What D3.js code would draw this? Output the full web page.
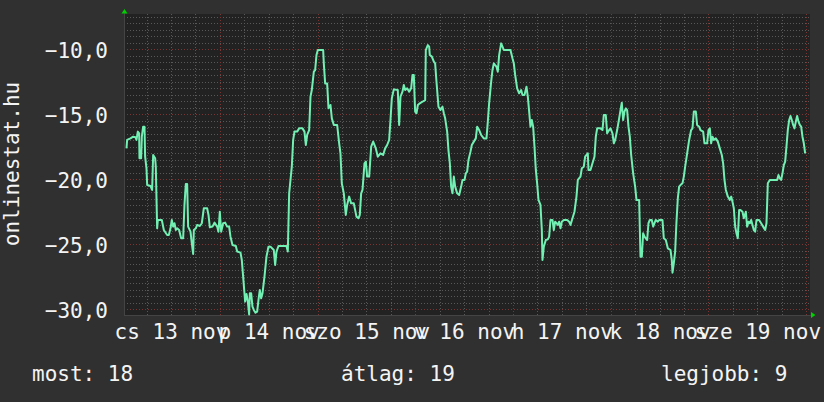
<!DOCTYPE html>
<html>
<head>
<meta charset="utf-8">
<script src="https://cdn.jsdelivr.net/npm/d3@7"></script>
<style>
  body { margin:0; background:#303030; }
  text { font-family:"DejaVu Sans Mono", monospace; font-size:21px; fill:#f4f4f4; }
</style>
</head>
<body>
<div id="chart"></div>
<script>
// hours since 2014-11-13 00:00, rank value
const day1 = [[1.08,-17.62],[1.24,-16.97],[2.06,-16.85],[2.72,-16.72],[3.29,-16.77],[3.54,-16.97],[3.86,-16.33],[4.19,-16.46],[4.27,-18.38],[4.68,-18.38],[4.85,-16.72],[5.17,-15.95],[5.5,-15.95],[5.66,-18.26],[5.99,-19.15],[6.16,-20.44],[6.97,-20.51],[7.38,-20.82],[7.63,-18.13],[8.12,-18.38],[8.28,-19.03],[8.61,-23.77],[8.78,-23.13],[9.76,-23.13],[10.25,-23.9],[11.07,-24.28],[11.48,-24.28],[11.89,-23.77],[12.21,-23.13],[12.54,-23.64],[12.87,-23.38],[13.2,-23.9],[13.52,-23.77],[14.01,-23.9],[14.5,-24.54],[15.0,-24.54],[15.32,-21.97],[15.65,-20.36],[15.98,-20.36],[16.22,-23.64],[16.8,-24.03],[17.12,-24.92],[17.45,-25.74],[17.62,-23.9],[18.11,-23.77],[18.43,-23.51],[19.09,-23.59],[19.58,-23.38],[20.07,-22.23],[20.89,-22.23],[21.22,-22.74],[21.55,-23.69],[22.2,-23.64],[22.69,-23.33],[23.35,-23.64],[23.67,-24.03],[24.0,-22.49],[24.33,-24.03],[24.82,-23.38],[25.31,-23.33],[25.8,-23.64],[26.29,-23.64],[26.62,-24.41],[27.11,-25.05],[27.93,-25.13],[28.26,-25.56],[29.08,-25.64],[29.4,-26.21],[29.73,-27.49],[30.22,-29.41],[30.55,-28.82],[30.88,-29.41],[31.2,-30.4],[31.37,-28.77],[31.7,-28.77],[32.02,-29.79],[32.35,-30.05],[32.76,-30.26],[33.17,-30.18],[33.5,-29.28],[33.82,-28.51],[34.15,-29.15],[34.48,-28.77],[34.97,-27.49],[35.46,-25.95],[35.95,-25.18],[36.44,-25.18],[37.26,-25.44],[37.59,-26.59],[37.92,-25.56],[38.41,-25.13],[40.37,-25.13],[40.7,-25.56],[41.03,-21.08]]
const day2 = [[41.68,-19.03],[42.01,-16.97],[42.34,-16.33],[42.99,-16.33],[43.48,-16.08],[44.3,-16.08],[44.79,-16.33],[45.12,-17.36],[45.45,-16.59],[45.94,-16.21],[46.27,-13.64],[46.59,-13.13],[47.09,-11.72],[47.41,-11.59],[47.74,-10.44],[48.07,-10.05],[49.38,-10.05],[49.54,-11.08],[49.87,-12.62],[50.36,-12.62],[50.69,-14.54],[51.18,-14.28],[51.51,-15.31],[52.0,-15.82],[52.82,-15.82],[53.31,-17.23],[53.63,-18.0],[53.96,-20.31],[54.45,-21.08],[54.94,-22.74],[55.27,-21.97],[55.76,-21.33],[56.25,-21.85],[56.91,-21.85],[57.56,-22.87],[58.06,-23.0],[58.38,-22.74],[58.71,-21.08],[59.04,-20.82],[59.53,-18.77],[59.86,-18.64],[60.18,-19.79],[60.68,-19.79],[61.17,-17.49],[61.66,-17.1],[62.31,-17.62],[62.8,-18.26],[63.46,-18.0],[64.11,-18.13],[64.6,-17.62],[65.1,-17.36],[65.59,-16.97],[65.91,-15.44],[66.24,-13.77],[66.73,-13.08],[67.71,-13.13],[68.04,-15.82],[68.37,-13.64],[68.86,-13.26],[69.19,-12.74],[69.52,-13.13],[70.01,-13.0],[70.5,-13.26],[70.99,-13.0],[71.32,-11.97],[71.64,-11.97],[71.97,-14.79],[72.3,-14.92],[72.63,-14.28],[73.12,-14.15],[73.77,-14.03],[74.43,-13.9],[74.59,-10.05],[75.08,-9.67],[75.41,-9.79],[75.57,-10.44],[76.07,-10.56],[76.56,-10.95],[76.88,-11.08],[77.21,-12.49],[77.7,-14.41],[78.19,-14.67],[78.68,-14.41],[79.01,-14.92],[79.34,-15.31],[79.83,-16.33],[80.16,-17.79],[80.49,-18.77],[80.81,-20.56],[81.14,-21.08],[81.47,-19.79],[81.8,-20.56],[82.29,-21.08],[82.78,-21.21],[83.27,-20.56],[83.6,-20.05]]
const day3 = [[84.09,-20.05],[84.41,-19.54],[84.74,-19.41],[85.07,-18.51],[85.56,-17.87],[85.89,-17.36],[86.38,-17.1],[86.87,-16.85],[87.2,-15.95],[87.69,-16.21],[88.18,-16.59],[88.83,-16.85],[89.49,-16.85],[89.82,-15.56],[90.14,-14.15],[90.64,-12.49],[90.96,-11.59],[91.29,-11.08],[91.62,-11.21],[91.94,-11.33],[92.27,-11.72],[92.6,-10.44],[93.09,-9.54],[93.42,-9.79],[93.75,-10.05],[95.38,-10.05],[95.87,-10.69],[96.2,-11.08],[96.53,-11.97],[97.02,-13.0],[97.51,-13.38],[98.0,-13.13],[98.33,-13.51],[98.82,-13.51],[99.31,-12.87],[99.64,-13.64],[99.97,-14.79],[100.29,-15.95],[100.62,-15.44],[100.95,-15.95],[101.28,-17.49],[101.61,-19.28],[101.93,-20.31],[102.26,-21.59],[102.75,-21.97],[103.08,-23.9],[103.24,-26.21],[103.57,-25.18],[104.06,-24.67],[104.55,-24.62],[104.88,-24.41],[105.21,-23.13],[105.7,-23.13],[106.02,-23.9],[106.35,-23.26],[106.68,-23.38],[107.01,-23.51],[107.33,-23.26],[107.66,-23.77],[107.99,-23.26],[108.48,-23.13],[109.3,-23.13],[109.79,-23.26],[110.12,-23.51],[110.61,-23.0],[111.1,-22.49],[111.59,-21.33],[111.92,-20.05],[112.57,-19.79],[112.9,-19.15],[113.39,-19.03],[113.72,-18.26],[114.37,-18.0],[114.54,-19.28],[115.03,-19.28],[115.52,-18.77],[116.01,-18.26],[116.34,-16.72],[116.67,-16.08],[117.49,-16.08],[117.98,-16.21],[118.3,-15.05],[118.79,-15.05],[119.12,-16.46],[119.61,-16.21],[119.94,-16.08],[120.43,-16.46],[120.76,-17.23],[121.09,-16.97],[121.58,-16.21],[122.07,-15.31],[122.4,-14.67],[122.72,-14.1],[123.05,-15.44],[123.38,-14.79],[123.71,-14.54],[124.03,-14.67],[124.36,-15.95],[124.69,-16.72],[125.02,-18.13]]
const day4 = [[125.51,-19.54],[126.0,-20.56],[126.33,-21.59],[126.98,-21.59],[127.31,-25.95],[127.64,-25.95],[127.96,-24.15],[128.29,-24.41],[128.62,-24.54],[128.95,-24.67],[129.27,-23.38],[129.6,-23.13],[130.09,-23.13],[130.42,-23.64],[130.75,-23.38],[131.07,-23.13],[131.57,-23.26],[131.89,-23.13],[132.71,-23.13],[133.04,-24.54],[133.53,-24.67],[134.02,-25.31],[134.68,-25.44],[135.0,-26.21],[135.17,-27.18],[135.49,-26.46],[135.82,-25.56],[136.15,-23.26],[136.48,-21.46],[136.8,-20.56],[137.13,-20.44],[137.62,-20.31],[137.95,-19.79],[138.28,-19.03],[138.77,-18.0],[139.26,-16.97],[139.75,-16.21],[140.08,-16.08],[140.41,-14.79],[140.9,-14.79],[141.22,-15.82],[141.72,-15.95],[142.04,-16.21],[142.7,-16.33],[143.03,-17.23],[143.68,-17.23],[144.01,-16.21],[144.34,-16.08],[144.66,-17.23],[144.99,-16.72],[145.32,-16.97],[145.81,-16.85],[146.3,-17.1],[146.79,-17.62],[147.28,-18.13],[147.61,-18.77],[147.94,-20.05],[148.27,-20.82],[148.76,-21.33],[149.25,-21.59],[149.58,-21.33],[149.9,-21.72],[150.23,-22.23],[150.56,-23.64],[150.88,-24.15],[151.21,-24.54],[151.54,-22.36],[151.87,-22.36],[152.36,-22.49],[152.69,-23.0],[153.18,-22.49],[153.5,-23.64],[153.83,-23.26],[154.16,-23.38],[154.49,-23.13],[155.14,-23.9],[155.47,-24.03],[155.8,-23.13],[156.45,-23.13],[156.94,-23.38],[157.43,-23.64],[157.93,-23.9],[158.25,-23.38],[158.58,-20.31],[159.07,-20.05],[160.87,-20.05],[161.2,-19.67],[161.53,-19.92],[161.85,-20.05],[162.18,-19.54],[162.51,-18.9],[162.84,-18.64],[163.16,-17.49],[163.49,-16.21],[163.82,-15.44],[164.15,-15.13],[164.47,-15.44],[164.8,-15.82],[165.13,-16.08],[165.46,-15.56],[165.78,-15.13],[166.11,-15.56],[166.44,-15.82],[166.77,-15.95],[167.09,-16.72],[167.42,-17.23],[167.75,-18.0]]

const yTicks = [-30,-25,-20,-15,-10]
const dayNames = ["v","h","k","sze","cs","p","szo"]   // hu_HU abday
const labelDays = [13,14,15,16,17,18,19]
const legend = [["most", 18],["átlag", 19],["legjobb", 9]]
const startDay = Date.UTC(2014,10,13)
const hourRange = [0.47, 168.94]

function render(){
  let width = 824, height = 402,
      margin = { top:14, left:124, right:14, bottom:87 },
      innerWidth = width - margin.left - margin.right,
      innerHeight = height - margin.top - margin.bottom

  let toDate = h => new Date(startDay + h*3600e3)
  let data = day1.concat(day2, day3, day4).map(d => ({ t: toDate(d[0]), v: d[1] }))

  let xScale = d3.scaleUtc().domain(hourRange.map(toDate)).range([0, innerWidth])
  let yScale = d3.scaleLinear().domain([-30.44, -7.28]).range([innerHeight, 0])

  let svg = d3.select("#chart").append("svg").attr("width", width).attr("height", height)
  svg.append("rect").attr("width", width).attr("height", height).attr("fill", "#303030")

  let g = svg.append("g").attr("transform", `translate(${margin.left},${margin.top})`)
  g.append("rect").attr("width", innerWidth).attr("height", innerHeight).attr("fill", "#222222")

  // grid: minor every 0,5 and 6 hours, major every 5 and midnight
  let minorY = d3.range(-30, -7.4, 0.5).filter(v => v % 5 != 0)
  g.selectAll(".gy").data(minorY).enter().append("line")
    .attr("x1", 0).attr("x2", innerWidth)
    .attr("y1", d => Math.round(yScale(d)) + 0.5).attr("y2", d => Math.round(yScale(d)) + 0.5)
    .attr("stroke", "#585858").attr("stroke-dasharray", "1,2")
  let sixHours = d3.utcHour.every(6).range(xScale.domain()[0], xScale.domain()[1]).filter(d => d.getUTCHours() != 0)
  g.selectAll(".gx").data(sixHours).enter().append("line")
    .attr("x1", d => Math.round(xScale(d)) + 0.5).attr("x2", d => Math.round(xScale(d)) + 0.5)
    .attr("y1", 0).attr("y2", innerHeight)
    .attr("stroke", "#585858").attr("stroke-dasharray", "1,2")
  g.selectAll(".my").data(yTicks).enter().append("line")
    .attr("x1", 0).attr("x2", innerWidth)
    .attr("y1", d => Math.round(yScale(d)) + 0.5).attr("y2", d => Math.round(yScale(d)) + 0.5)
    .attr("stroke", "#7a3434").attr("stroke-dasharray", "1,2")
  let midnights = d3.utcDay.range(xScale.domain()[0], xScale.domain()[1])
  g.selectAll(".mx").data(midnights).enter().append("line")
    .attr("x1", d => Math.round(xScale(d)) + 0.5).attr("x2", d => Math.round(xScale(d)) + 0.5)
    .attr("y1", 0).attr("y2", innerHeight)
    .attr("stroke", "#7a3434").attr("stroke-dasharray", "1,2")

  // axis lines
  g.append("line").attr("x1", 0.5).attr("x2", 0.5).attr("y1", -2).attr("y2", innerHeight + 1).attr("stroke", "#444")
  g.append("line").attr("x1", 0).attr("x2", innerWidth + 2).attr("y1", innerHeight + 0.5).attr("y2", innerHeight + 0.5).attr("stroke", "#444")

  let line = d3.line().x(d => xScale(d.t)).y(d => yScale(d.v))
  g.append("path").attr("d", line(data))
    .attr("fill", "none").attr("stroke", "#72f0b4").attr("stroke-width", 2).attr("stroke-linejoin", "round")

  // arrows
  svg.append("path").attr("d", `M${margin.left + 0.5},9 L${margin.left - 2.5},13.5 L${margin.left + 3.5},13.5 Z`).attr("fill", "#00d000")
  svg.append("path").attr("d", `M811,312 L815.5,315 L811,318 Z`).attr("fill", "#00d000")

  // axes
  let hu = d3.formatLocale({ decimal:",", thousands:" ", grouping:[3], currency:["","Ft"] })
  let yAxis = d3.axisLeft(yScale).tickValues(yTicks).tickFormat(hu.format(".1f")).tickSize(0).tickPadding(16)
  let yGroup = g.append("g").call(yAxis)
  yGroup.selectAll("text").attr("dy", "0.38em").style("font-size", "21px").style("font-family", "DejaVu Sans Mono").attr("fill", "#f4f4f4")

  // labels centred at noon of each day
  let noons = labelDays.map(d => new Date(Date.UTC(2014, 10, d, 12)))
  let xAxis = d3.axisBottom(xScale).tickValues(noons).tickSize(0).tickPadding(9)
    .tickFormat(d => dayNames[d.getUTCDay()] + " " + d.getUTCDate() + " nov")
  let xGroup = g.append("g").attr("transform", `translate(0,${innerHeight})`).call(xAxis)
  xGroup.selectAll("text").style("font-size", "21px").style("font-family", "DejaVu Sans Mono").attr("fill", "#f4f4f4")
  xGroup.select(".domain").remove()
  yGroup.select(".domain").remove()

  svg.append("text").attr("transform", "translate(18.5,164) rotate(-90)").attr("text-anchor", "middle").text("onlinestat.hu")

  let legendX = [32, 341, 661]
  svg.selectAll(".legend").data(legend).enter().append("text")
    .attr("x", (d, i) => legendX[i]).attr("y", 381)
    .text(d => d[0] + ": " + d[1])
}
render()
</script>
</body>
</html>
